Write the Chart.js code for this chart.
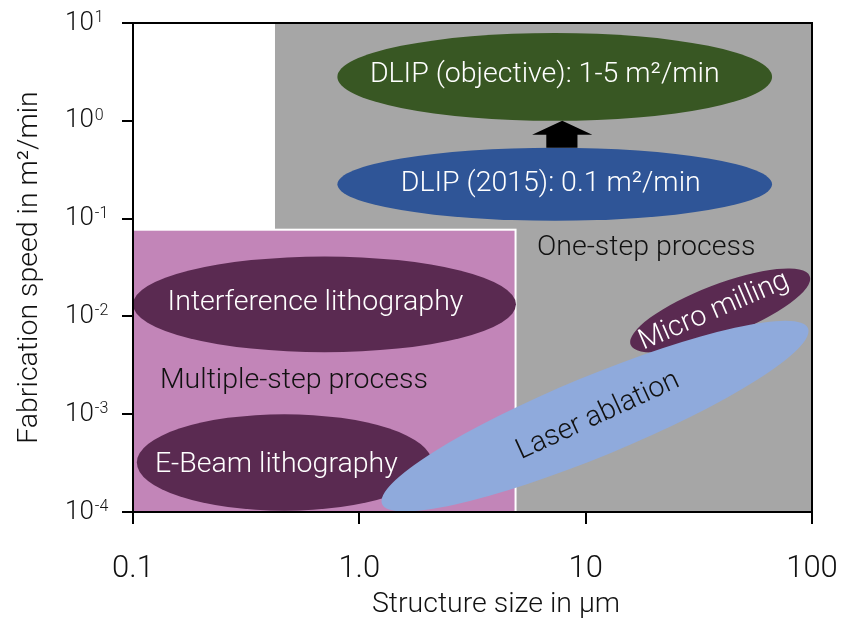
<!DOCTYPE html>
<html>
<head>
<meta charset="utf-8">
<script src="https://cdn.jsdelivr.net/npm/chart.js@4.4.1/dist/chart.umd.min.js"></script>
<style>
  html, body { margin: 0; padding: 0; background: #ffffff; }
  #wrap { width: 841px; height: 621px; }
</style>
</head>
<body>
<div id="wrap"><canvas id="chart" width="841" height="621"></canvas></div>
<script>
// ---- axes -------------------------------------------------------------
const structureSizeTicks = [0.1, 1, 10, 100];
const structureSizeTickLabels = ['0.1', '1.0', '10', '100'];
const speedTicks = [1e-4, 1e-3, 1e-2, 1e-1, 1, 10];
const speedTickExponents = ['-4', '-3', '-2', '-1', '0', '1'];

// ---- process windows: structure size (µm) and speed (m²/min) ranges ----
const processNames = ['One-step process', 'Multiple-step process'];
const processSize = [[0.424, 100], [0.1, 4.9]];
const processSpeed = [[1e-4, 10], [1e-4, 0.077]];

// ---- techniques shown as upright ellipses -----------------------------
const methodNames = ['DLIP (objective): 1-5 m²/min', 'DLIP (2015): 0.1 m²/min',
                     'Interference lithography', 'E-Beam lithography'];
const methodSize = [[0.8, 66.6], [0.8, 66.6], [0.1, 4.92], [0.104, 2.09]];
const methodSpeed = [[1.0, 7.9], [0.095, 0.53], [0.0043, 0.041], [1.03e-4, 1e-3]];

// ---- techniques shown as tilted ellipses (long-axis end points) --------
const trendNames = ['Micro milling', 'Laser ablation'];
const trendStart = [[15.8, 0.00513], [1.26, 1.21e-4]];
const trendEnd = [[97.7, 0.0258], [96, 0.00755]];
const trendHalfWidth = [0.265, 0.41];   // in decades of speed

// ---- step from DLIP (2015) to the objective ----------------------------
const arrowShaftSize = [6.7, 9.2];
const arrowHeadSize = [5.8, 10.7];
const arrowSpeed = [0.53, 0.72, 1.0];   // shaft base, head base, tip

// ---- styling ----------------------------------------------------------
const FONT = 'Roboto, "Open Sans", sans-serif';
const LABEL_FONT = '300 28.5px ' + FONT;
const processColors = ['#a6a6a6', '#c285b8'];
const processLabelAt = [[18.5, 0.0506], [0.514, 0.00217]];
const methodColors = ['#385723', '#2f5597', '#5a2a51', '#5a2a51'];
const methodLabelShift = [[-10, -2], [-4, 0], [-9, -1], [-8, 2]];
const trendColors = ['#5a2a51', '#8faadc'];
const trendTextColors = ['#ffffff', '#111111'];
const trendLabelShift = [[-6, 1], [3, 0]];
const trendLabelTilt = [-0.04, -0.04];  // extra text rotation, radians

function ellipsePath(ctx, cx, cy, rx, ry, rot) {
  ctx.beginPath();
  ctx.ellipse(cx, cy, rx, ry, rot, 0, Math.PI * 2);
  ctx.closePath();
}

const mapPlugin = {
  id: 'processMap',
  beforeDatasetsDraw(chart) {
    const { ctx, chartArea: a } = chart;
    const xs = chart.scales.x, ys = chart.scales.y;
    const X = v => xs.getPixelForValue(v);
    const Y = v => ys.getPixelForValue(v);
    const decadeY = Math.abs(Y(1) - Y(10));

    ctx.save();
    ctx.beginPath();
    ctx.rect(a.left, a.top, a.right - a.left, a.bottom - a.top);
    ctx.clip();

    // process windows
    processNames.forEach((n, i) => {
      const x0 = X(processSize[i][0]), x1 = X(processSize[i][1]);
      const y0 = Y(processSpeed[i][1]), y1 = Y(processSpeed[i][0]);
      ctx.fillStyle = processColors[i];
      ctx.fillRect(x0, y0, x1 - x0, y1 - y0);
      if (i === 1) {
        ctx.strokeStyle = '#ffffff';
        ctx.lineWidth = 2;
        ctx.strokeRect(x0, y0, x1 - x0, y1 - y0);
      }
    });

    // upright ellipses
    const drawMethod = i => {
      const x0 = X(methodSize[i][0]), x1 = X(methodSize[i][1]);
      const y0 = Y(methodSpeed[i][1]), y1 = Y(methodSpeed[i][0]);
      ellipsePath(ctx, (x0 + x1) / 2, (y0 + y1) / 2, (x1 - x0) / 2, (y1 - y0) / 2, 0);
      ctx.fillStyle = methodColors[i];
      ctx.fill();
    };
    drawMethod(0);
    drawMethod(1);

    // arrow
    ctx.fillStyle = '#000000';
    ctx.beginPath();
    ctx.moveTo(X(arrowShaftSize[0]), Y(arrowSpeed[0]));
    ctx.lineTo(X(arrowShaftSize[0]), Y(arrowSpeed[1]));
    ctx.lineTo(X(arrowHeadSize[0]), Y(arrowSpeed[1]));
    ctx.lineTo((X(arrowHeadSize[0]) + X(arrowHeadSize[1])) / 2, Y(arrowSpeed[2]));
    ctx.lineTo(X(arrowHeadSize[1]), Y(arrowSpeed[1]));
    ctx.lineTo(X(arrowShaftSize[1]), Y(arrowSpeed[1]));
    ctx.lineTo(X(arrowShaftSize[1]), Y(arrowSpeed[0]));
    ctx.closePath();
    ctx.fill();

    drawMethod(2);
    drawMethod(3);

    // tilted ellipses
    const trendGeom = trendNames.map((n, i) => {
      const px0 = X(trendStart[i][0]), py0 = Y(trendStart[i][1]);
      const px1 = X(trendEnd[i][0]), py1 = Y(trendEnd[i][1]);
      return {
        cx: (px0 + px1) / 2, cy: (py0 + py1) / 2,
        rx: Math.hypot(px1 - px0, py1 - py0) / 2,
        ry: trendHalfWidth[i] * decadeY,
        rot: Math.atan2(py1 - py0, px1 - px0)
      };
    });
    trendGeom.forEach((g, i) => {
      ellipsePath(ctx, g.cx, g.cy, g.rx, g.ry, g.rot);
      ctx.fillStyle = trendColors[i];
      ctx.fill();
    });

    // labels
    ctx.textAlign = 'center';
    ctx.textBaseline = 'middle';
    ctx.font = LABEL_FONT;
    ctx.fillStyle = '#111111';
    processNames.forEach((n, i) => {
      ctx.fillText(n, X(processLabelAt[i][0]), Y(processLabelAt[i][1]));
    });
    ctx.fillStyle = '#ffffff';
    methodNames.forEach((n, i) => {
      const x0 = X(methodSize[i][0]), x1 = X(methodSize[i][1]);
      const y0 = Y(methodSpeed[i][1]), y1 = Y(methodSpeed[i][0]);
      ctx.fillText(n, (x0 + x1) / 2 + methodLabelShift[i][0], (y0 + y1) / 2 + methodLabelShift[i][1]);
    });
    trendGeom.forEach((g, i) => {
      ctx.save();
      ctx.translate(g.cx + trendLabelShift[i][0], g.cy + trendLabelShift[i][1]);
      ctx.rotate(g.rot + trendLabelTilt[i]);
      ctx.fillStyle = trendTextColors[i];
      ctx.fillText(trendNames[i], 0, 0);
      ctx.restore();
    });
    ctx.restore();
  },
  afterDraw(chart) {
    const { ctx, chartArea: a } = chart;
    const ys = chart.scales.y;
    ctx.save();
    // frame around the plot
    ctx.strokeStyle = '#000000';
    ctx.lineWidth = 2;
    ctx.strokeRect(a.left, a.top, a.right - a.left, a.bottom - a.top);

    // speed tick labels as powers of ten
    ctx.fillStyle = '#111111';
    ctx.textAlign = 'left';
    speedTicks.forEach((v, i) => {
      const y = ys.getPixelForValue(v);
      const x = a.left - 68;
      ctx.font = '300 26px ' + FONT;
      ctx.textBaseline = 'middle';
      ctx.fillText('10', x, y);
      const w = ctx.measureText('10').width;
      ctx.font = '300 16px ' + FONT;
      ctx.textBaseline = 'alphabetic';
      ctx.fillText(speedTickExponents[i], x + w + 1, y - 1);
    });

    // axis titles
    ctx.font = LABEL_FONT;
    ctx.textAlign = 'center';
    ctx.textBaseline = 'middle';
    ctx.fillText('Structure size in µm', 496, 605);
    ctx.save();
    ctx.translate(30, (a.top + a.bottom) / 2);
    ctx.rotate(-Math.PI / 2);
    ctx.fillText('Fabrication speed in m²/min', 0, 0);
    ctx.restore();
    ctx.restore();
  }
};

new Chart(document.getElementById('chart'), {
  type: 'scatter',
  data: { datasets: [{ data: [], pointRadius: 0 }] },
  options: {
    responsive: false,
    animation: false,
    events: [],
    layout: { padding: { left: 0, top: 23, right: 29, bottom: 0 } },
    plugins: { legend: { display: false }, tooltip: { enabled: false } },
    scales: {
      x: {
        type: 'logarithmic',
        min: 0.1, max: 100,
        afterBuildTicks: s => { s.ticks = structureSizeTicks.map(v => ({ value: v, major: true })); },
        afterFit: s => { s.height = 109; s.paddingLeft = 0; s.paddingRight = 0; },
        grid: { drawOnChartArea: false, drawTicks: true, tickLength: 12, color: '#000000', lineWidth: 2 },
        border: { display: true, color: '#000000', width: 2 },
        ticks: {
          autoSkip: false, maxRotation: 0, padding: 27,
          color: '#111111',
          font: { family: FONT, size: 31, weight: '300' },
          callback: (v) => {
            const i = structureSizeTicks.findIndex(t => Math.abs(t - v) / t < 1e-6);
            return i >= 0 ? structureSizeTickLabels[i] : '';
          }
        }
      },
      y: {
        type: 'logarithmic',
        min: 1e-4, max: 10,
        afterBuildTicks: s => { s.ticks = speedTicks.map(v => ({ value: v, major: true })); },
        afterFit: s => { s.width = 133; s.paddingTop = 0; s.paddingBottom = 0; },
        grid: { drawOnChartArea: false, drawTicks: true, tickLength: 11, color: '#000000', lineWidth: 2 },
        border: { display: true, color: '#000000', width: 2 },
        ticks: { autoSkip: false, callback: () => '' }
      }
    }
  },
  plugins: [mapPlugin]
});
</script>
</body>
</html>
